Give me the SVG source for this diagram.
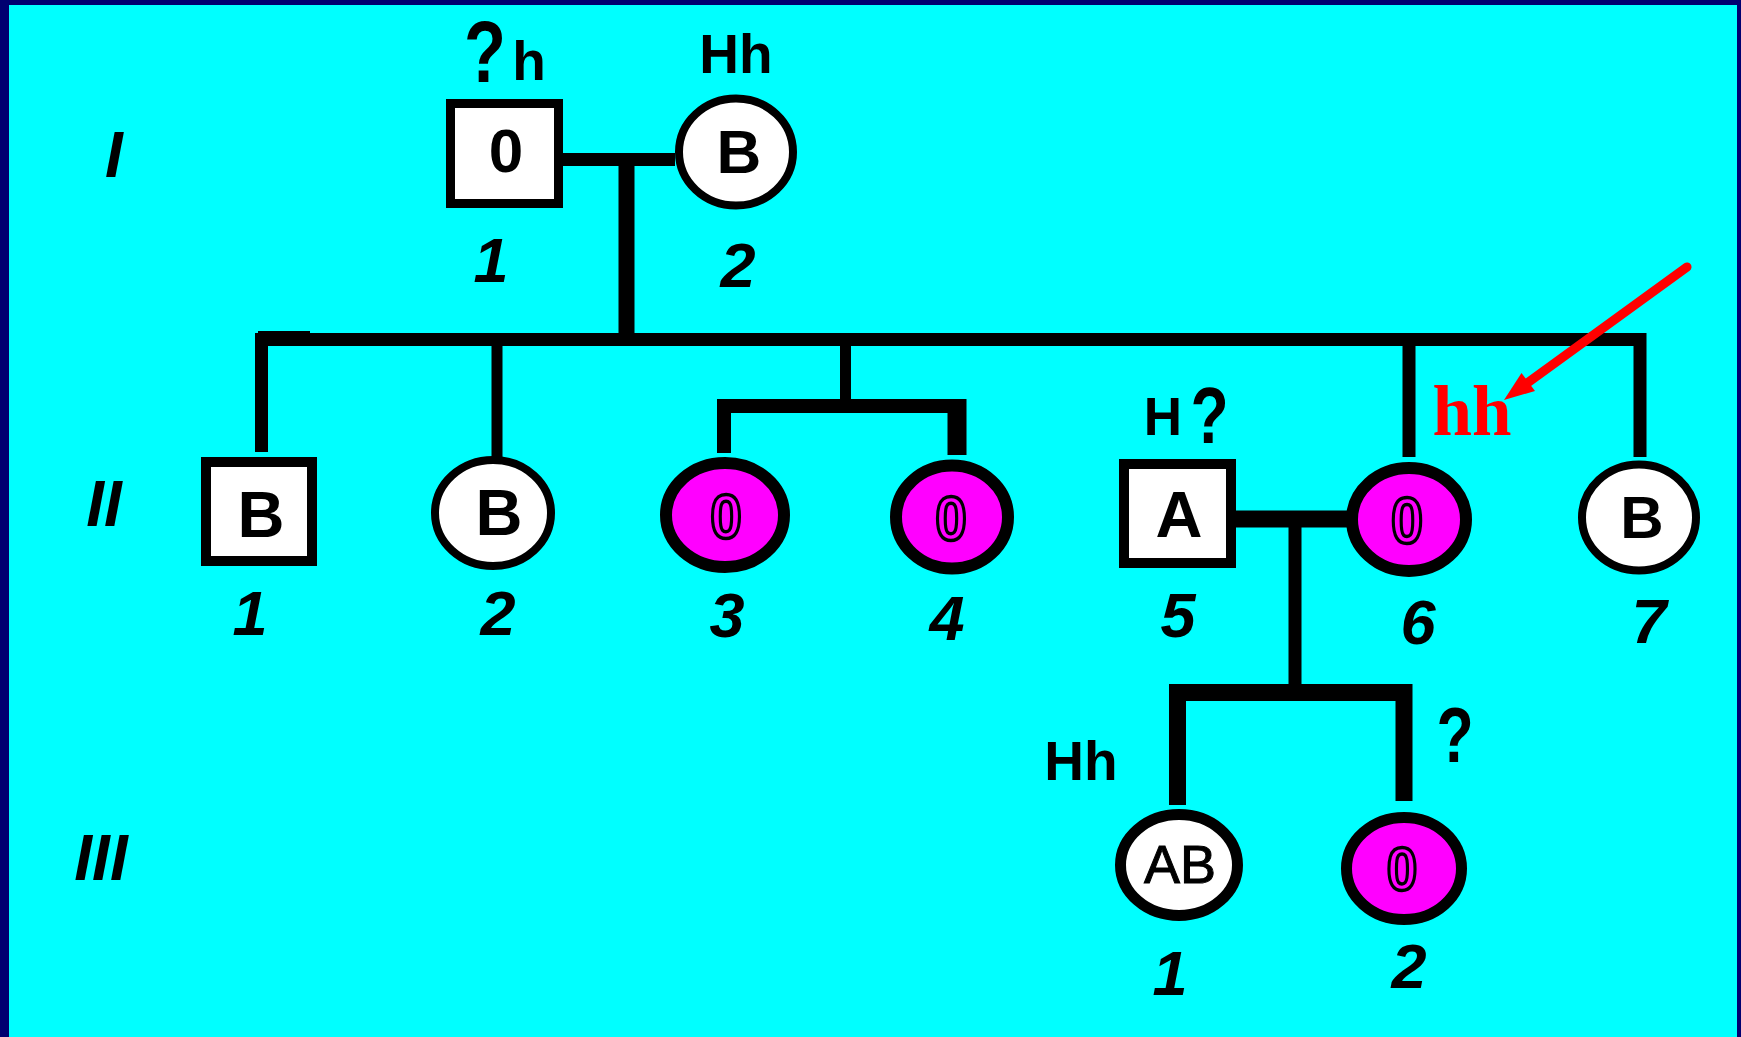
<svg xmlns="http://www.w3.org/2000/svg" width="1741" height="1037" viewBox="0 0 1741 1037">
<defs>
<style>
.node rect{fill:#fff;stroke:#000}
.node ellipse{stroke:#000}
.wf{fill:#fff}
.mf{fill:#ff00ff}
.lt{font-family:"Liberation Sans",Arial,sans-serif;font-weight:bold;fill:#000;text-anchor:middle}
.oz{font-family:"Liberation Sans",Arial,sans-serif;font-weight:bold;fill:#ff00ff;stroke:#000;stroke-width:3.5;text-anchor:middle}
.num{font-family:"Liberation Sans",Arial,sans-serif;font-weight:bold;font-style:italic;fill:#000;text-anchor:middle;font-size:63px}
.gen{font-family:"Liberation Sans",Arial,sans-serif;font-weight:bold;font-style:italic;fill:#000;text-anchor:middle;font-size:64px}
.gt{font-family:"Liberation Sans",Arial,sans-serif;font-weight:bold;fill:#000;text-anchor:middle}
.conn path{fill:none;stroke:#000;stroke-linejoin:miter;stroke-linecap:butt}
</style>
</defs>
<rect x="0" y="0" width="1741" height="1037" fill="#000070"/>
<rect x="9" y="5" width="1728" height="1032" fill="#00ffff"/>

<g id="generations">
<text class="gen" x="114" y="177">I</text>
<text class="gen" x="104" y="526">II</text>
<text class="gen" x="101" y="880">III</text>
</g>

<g id="connectors" class="conn">
<path d="M563,159.5 H675" stroke-width="13"/>
<path d="M626.5,159 V339" stroke-width="16"/>
<path d="M261.5,452 V339.5 H1640 V457" stroke-width="13"/>
<path d="M258,332.5 H310" stroke-width="3"/>
<path d="M497,339 V457" stroke-width="11"/>
<path d="M845.5,339 V406" stroke-width="11"/>
<path d="M724,453 V406 H957" stroke-width="14"/>
<path d="M957,399 V455" stroke-width="19"/>
<path d="M1409,339 V457" stroke-width="13"/>
<path d="M1236,519 H1350" stroke-width="17"/>
<path d="M1295,519 V692" stroke-width="13"/>
<path d="M1177.5,805 V692.5 H1404 V801" stroke-width="17"/>
<path d="M1177.5,805 V700" stroke-width="13"/>
</g>

<g id="I-1" class="node">
<rect x="450.5" y="103.5" width="108" height="100" stroke-width="9"/>
<text class="lt" x="506" y="172" font-size="62">0</text>
<text class="gt" transform="translate(485,82) scale(0.78,1)" font-size="88">?</text>
<text class="gt" x="529" y="80" font-size="55">h</text>
<text class="num" x="491" y="282">1</text>
</g>

<g id="I-2" class="node">
<ellipse class="wf" cx="736" cy="152" rx="57" ry="53.5" stroke-width="8"/>
<text class="lt" x="739" y="173" font-size="62">B</text>
<text class="gt" x="736" y="73" font-size="55">Hh</text>
<text class="num" x="738" y="287">2</text>
</g>

<g id="II-1" class="node">
<rect x="206" y="462" width="106" height="99" stroke-width="10"/>
<text class="lt" x="261" y="537" font-size="65">B</text>
<text class="num" x="250" y="635">1</text>
</g>

<g id="II-2" class="node">
<ellipse class="wf" cx="493" cy="513" rx="58" ry="53" stroke-width="8"/>
<text class="lt" x="499" y="535" font-size="65">B</text>
<text class="num" x="498" y="635">2</text>
</g>

<g id="II-3" class="node">
<ellipse class="mf" cx="725" cy="515" rx="59" ry="52" stroke-width="12"/>
<text class="oz" transform="translate(726,538) scale(0.9,1)" font-size="63">0</text>
<text class="num" x="727" y="637">3</text>
</g>

<g id="II-4" class="node">
<ellipse class="mf" cx="952" cy="517" rx="56" ry="51.5" stroke-width="12"/>
<text class="oz" transform="translate(951,540) scale(0.9,1)" font-size="63">0</text>
<text class="num" x="947" y="640">4</text>
</g>

<g id="II-5" class="node">
<rect x="1124" y="464" width="107" height="99" stroke-width="10"/>
<text class="lt" x="1179" y="537" font-size="65">A</text>
<text class="gt" x="1163" y="435" font-size="53">H</text>
<text class="gt" transform="translate(1209.5,443) scale(0.78,1)" font-size="80">?</text>
<text class="num" x="1178" y="637">5</text>
</g>

<g id="II-6" class="node">
<ellipse class="mf" cx="1409" cy="519.5" rx="57" ry="51.5" stroke-width="12"/>
<text class="oz" transform="translate(1407,543) scale(0.9,1)" font-size="64">0</text>
<text class="num" x="1418" y="644">6</text>
<text x="1472" y="435" font-family="'Liberation Serif','Times New Roman',serif" font-weight="bold" font-size="71" fill="#ff0000" text-anchor="middle">hh</text>
</g>

<g id="II-7" class="node">
<ellipse class="wf" cx="1639" cy="517.5" rx="57" ry="53" stroke-width="8"/>
<text class="lt" x="1642" y="538" font-size="60">B</text>
<text class="num" x="1649" y="643">7</text>
</g>

<g id="III-1" class="node">
<ellipse class="wf" cx="1179" cy="865" rx="58.5" ry="50.5" stroke-width="11"/>
<text x="1180" y="883" font-family="'Liberation Sans',Arial,sans-serif" font-size="54" fill="#000" stroke="#000" stroke-width="1" text-anchor="middle">AB</text>
<text class="gt" x="1081" y="780" font-size="55">Hh</text>
<text class="num" x="1170" y="995">1</text>
</g>

<g id="III-2" class="node">
<ellipse class="mf" cx="1404" cy="868.5" rx="57.5" ry="51" stroke-width="11"/>
<text class="oz" transform="translate(1402,890) scale(0.9,1)" font-size="61">0</text>
<text class="gt" transform="translate(1455,762) scale(0.78,1)" font-size="78">?</text>
<text class="num" x="1409" y="988">2</text>
</g>

<g id="arrow">
<line x1="1687" y1="267" x2="1528" y2="382.5" stroke="#ff0000" stroke-width="9" stroke-linecap="round"/>
<polygon points="1504,400 1535,391 1521.5,373" fill="#ff0000"/>
</g>
</svg>
